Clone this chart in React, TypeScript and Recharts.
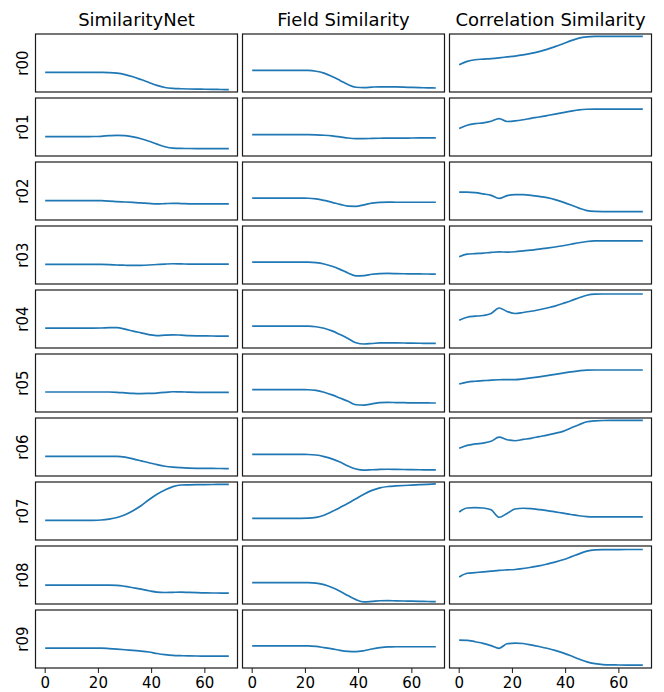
import React from 'react';
import { LineChart, Line, XAxis, YAxis } from 'recharts';

// Column titles and row labels of the small-multiple grid
const columnTitles = ['SimilarityNet', 'Field Similarity', 'Correlation Similarity'];
const rowLabels = ['r00', 'r01', 'r02', 'r03', 'r04', 'r05', 'r06', 'r07', 'r08', 'r09'];

// Shared sample positions along the x axis
const steps = [0, 3, 6, 9, 12, 15, 18, 21, 24, 27, 30, 33, 36, 39, 42, 45, 48, 51, 54, 57, 60, 63, 66, 69];
const xTicks = [0, 20, 40, 60];

// SimilarityNet, one row per series
const similarityNet = [
  [0.339, 0.339, 0.339, 0.339, 0.339, 0.339, 0.339, 0.338, 0.335, 0.325, 0.300, 0.262, 0.215, 0.165, 0.115, 0.078, 0.062, 0.056, 0.052, 0.049, 0.047, 0.045, 0.043, 0.041],
  [0.335, 0.335, 0.335, 0.335, 0.335, 0.335, 0.336, 0.340, 0.350, 0.357, 0.350, 0.330, 0.298, 0.255, 0.205, 0.160, 0.135, 0.130, 0.129, 0.128, 0.128, 0.127, 0.127, 0.127],
  [0.335, 0.335, 0.335, 0.335, 0.335, 0.335, 0.335, 0.333, 0.327, 0.318, 0.310, 0.303, 0.296, 0.285, 0.277, 0.282, 0.288, 0.284, 0.279, 0.277, 0.277, 0.277, 0.277, 0.277],
  [0.337, 0.337, 0.337, 0.337, 0.337, 0.337, 0.337, 0.337, 0.334, 0.328, 0.323, 0.320, 0.322, 0.328, 0.336, 0.344, 0.349, 0.346, 0.343, 0.342, 0.342, 0.343, 0.343, 0.343],
  [0.343, 0.343, 0.343, 0.343, 0.343, 0.343, 0.343, 0.345, 0.350, 0.352, 0.325, 0.292, 0.262, 0.232, 0.212, 0.222, 0.228, 0.222, 0.214, 0.210, 0.208, 0.207, 0.206, 0.206],
  [0.345, 0.345, 0.345, 0.345, 0.345, 0.345, 0.345, 0.345, 0.345, 0.340, 0.330, 0.320, 0.317, 0.321, 0.327, 0.337, 0.349, 0.348, 0.341, 0.339, 0.339, 0.339, 0.339, 0.339],
  [0.337, 0.337, 0.337, 0.337, 0.337, 0.337, 0.337, 0.337, 0.337, 0.337, 0.325, 0.295, 0.262, 0.228, 0.195, 0.168, 0.152, 0.143, 0.137, 0.133, 0.131, 0.130, 0.129, 0.128],
  [0.339, 0.339, 0.339, 0.339, 0.339, 0.339, 0.340, 0.345, 0.360, 0.387, 0.435, 0.505, 0.590, 0.695, 0.790, 0.862, 0.920, 0.948, 0.952, 0.954, 0.955, 0.957, 0.958, 0.960],
  [0.324, 0.324, 0.324, 0.324, 0.324, 0.324, 0.324, 0.324, 0.324, 0.321, 0.305, 0.280, 0.255, 0.228, 0.205, 0.198, 0.202, 0.205, 0.200, 0.195, 0.192, 0.190, 0.189, 0.188],
  [0.343, 0.343, 0.343, 0.343, 0.343, 0.343, 0.343, 0.342, 0.335, 0.326, 0.315, 0.303, 0.292, 0.276, 0.250, 0.230, 0.217, 0.212, 0.209, 0.207, 0.206, 0.206, 0.206, 0.206],
];

// Field Similarity, one row per series
const fieldSimilarity = [
  [0.374, 0.374, 0.374, 0.374, 0.374, 0.374, 0.374, 0.372, 0.358, 0.325, 0.268, 0.200, 0.128, 0.082, 0.075, 0.084, 0.090, 0.090, 0.087, 0.083, 0.079, 0.075, 0.072, 0.069],
  [0.370, 0.370, 0.370, 0.370, 0.370, 0.370, 0.370, 0.369, 0.365, 0.358, 0.347, 0.330, 0.310, 0.300, 0.300, 0.303, 0.306, 0.307, 0.308, 0.309, 0.310, 0.311, 0.312, 0.312],
  [0.376, 0.376, 0.376, 0.376, 0.376, 0.376, 0.376, 0.375, 0.364, 0.338, 0.305, 0.270, 0.238, 0.236, 0.262, 0.290, 0.305, 0.307, 0.306, 0.306, 0.306, 0.306, 0.306, 0.306],
  [0.377, 0.377, 0.377, 0.377, 0.377, 0.377, 0.377, 0.376, 0.368, 0.345, 0.305, 0.252, 0.190, 0.140, 0.145, 0.168, 0.180, 0.182, 0.180, 0.177, 0.175, 0.173, 0.172, 0.171],
  [0.377, 0.377, 0.377, 0.377, 0.377, 0.377, 0.377, 0.376, 0.366, 0.340, 0.295, 0.232, 0.165, 0.090, 0.069, 0.078, 0.088, 0.090, 0.088, 0.086, 0.084, 0.082, 0.081, 0.080],
  [0.385, 0.385, 0.385, 0.385, 0.385, 0.385, 0.385, 0.384, 0.372, 0.340, 0.295, 0.240, 0.185, 0.125, 0.118, 0.140, 0.162, 0.166, 0.163, 0.160, 0.158, 0.157, 0.156, 0.155],
  [0.372, 0.372, 0.372, 0.372, 0.372, 0.372, 0.372, 0.371, 0.362, 0.335, 0.295, 0.240, 0.172, 0.120, 0.100, 0.108, 0.114, 0.116, 0.114, 0.112, 0.110, 0.108, 0.106, 0.105],
  [0.374, 0.374, 0.374, 0.374, 0.374, 0.374, 0.374, 0.376, 0.390, 0.428, 0.490, 0.560, 0.632, 0.712, 0.790, 0.855, 0.898, 0.922, 0.932, 0.940, 0.947, 0.954, 0.960, 0.966],
  [0.370, 0.370, 0.370, 0.370, 0.370, 0.370, 0.370, 0.369, 0.360, 0.335, 0.285, 0.220, 0.145, 0.075, 0.037, 0.045, 0.056, 0.058, 0.055, 0.052, 0.049, 0.046, 0.043, 0.041],
  [0.383, 0.383, 0.383, 0.383, 0.383, 0.383, 0.383, 0.382, 0.372, 0.352, 0.331, 0.305, 0.287, 0.281, 0.298, 0.328, 0.352, 0.365, 0.366, 0.366, 0.366, 0.366, 0.366, 0.366],
];

// Correlation Similarity, one row per series
const correlationSimilarity = [
  [0.471, 0.528, 0.556, 0.567, 0.577, 0.590, 0.605, 0.620, 0.640, 0.665, 0.697, 0.735, 0.782, 0.832, 0.885, 0.928, 0.950, 0.958, 0.960, 0.960, 0.960, 0.960, 0.960, 0.960],
  [0.474, 0.530, 0.558, 0.572, 0.600, 0.645, 0.595, 0.605, 0.625, 0.650, 0.672, 0.697, 0.722, 0.748, 0.773, 0.795, 0.806, 0.809, 0.809, 0.809, 0.809, 0.809, 0.809, 0.809],
  [0.480, 0.482, 0.472, 0.450, 0.425, 0.372, 0.420, 0.436, 0.437, 0.425, 0.407, 0.385, 0.352, 0.308, 0.258, 0.205, 0.162, 0.147, 0.145, 0.145, 0.145, 0.145, 0.145, 0.145],
  [0.469, 0.514, 0.524, 0.532, 0.545, 0.554, 0.550, 0.556, 0.570, 0.585, 0.600, 0.618, 0.638, 0.660, 0.685, 0.711, 0.733, 0.743, 0.744, 0.744, 0.744, 0.744, 0.744, 0.744],
  [0.480, 0.531, 0.548, 0.560, 0.594, 0.690, 0.630, 0.595, 0.612, 0.633, 0.660, 0.690, 0.722, 0.768, 0.815, 0.866, 0.910, 0.928, 0.931, 0.931, 0.931, 0.931, 0.931, 0.931],
  [0.483, 0.515, 0.530, 0.540, 0.550, 0.556, 0.557, 0.558, 0.570, 0.588, 0.607, 0.627, 0.648, 0.670, 0.692, 0.710, 0.722, 0.724, 0.724, 0.724, 0.724, 0.724, 0.724, 0.724],
  [0.477, 0.528, 0.553, 0.568, 0.598, 0.670, 0.625, 0.608, 0.630, 0.650, 0.678, 0.705, 0.735, 0.770, 0.828, 0.885, 0.935, 0.952, 0.957, 0.958, 0.959, 0.959, 0.960, 0.960],
  [0.483, 0.552, 0.558, 0.552, 0.520, 0.392, 0.458, 0.535, 0.547, 0.540, 0.525, 0.508, 0.486, 0.462, 0.440, 0.418, 0.403, 0.398, 0.397, 0.397, 0.397, 0.397, 0.397, 0.397],
  [0.465, 0.530, 0.541, 0.553, 0.566, 0.580, 0.588, 0.595, 0.612, 0.633, 0.657, 0.688, 0.722, 0.762, 0.812, 0.865, 0.912, 0.932, 0.937, 0.938, 0.939, 0.940, 0.940, 0.940],
  [0.480, 0.478, 0.452, 0.425, 0.385, 0.340, 0.418, 0.430, 0.422, 0.398, 0.370, 0.340, 0.305, 0.260, 0.210, 0.155, 0.105, 0.075, 0.058, 0.053, 0.052, 0.051, 0.051, 0.051],
];

const columns = [similarityNet, fieldSimilarity, correlationSimilarity];

// Layout
const FONT = "'DejaVu Sans', sans-serif";
const LINE_COLOR = '#1f77b4';
const SPINE_COLOR = '#1a1a1a';
const PANEL_W = 202;
const PANEL_H = 58;
const COL_LEFT = [35.5, 242.5, 449.5];
const ROW_TOP0 = 34;
const ROW_STEP = 64;
const X_DOMAIN: [number, number] = [-3.45, 72.45];
const Y_DOMAIN: [number, number] = [0, 1];

function Panel({ values, showLabels }: { values: number[]; showLabels: boolean }) {
  const data = steps.map((x, i) => ({ x, y: values[i] }));
  const axisH = showLabels ? 30 : 6;
  return (
    <LineChart
      width={PANEL_W}
      height={PANEL_H + axisH}
      data={data}
      margin={{ top: 0, right: 0, bottom: 0, left: 0 }}
    >
      <XAxis
        dataKey="x"
        type="number"
        domain={X_DOMAIN}
        ticks={xTicks}
        interval={0}
        allowDataOverflow
        axisLine={false}
        stroke={SPINE_COLOR}
        tickSize={5}
        tickMargin={4}
        height={axisH}
        tick={showLabels ? { fill: '#000', fontSize: 15, fontFamily: FONT } : false}
      />
      <YAxis type="number" domain={Y_DOMAIN} hide allowDataOverflow />
      <Line
        dataKey="y"
        type="monotone"
        stroke={LINE_COLOR}
        strokeWidth={1.7}
        dot={false}
        isAnimationActive={false}
      />
    </LineChart>
  );
}

export default function App() {
  return (
    <div
      style={{
        position: 'absolute',
        left: 0,
        top: 0,
        width: 664,
        height: 692,
        background: '#fff',
        fontFamily: FONT,
      }}
    >
      {columns.map((rows, c) =>
        rows.map((values, r) => (
          <div
            key={`${c}-${r}`}
            style={{ position: 'absolute', left: COL_LEFT[c], top: ROW_TOP0 + r * ROW_STEP }}
          >
            <Panel values={values} showLabels={r === rows.length - 1} />
          </div>
        ))
      )}
      <svg
        width={664}
        height={692}
        style={{ position: 'absolute', left: 0, top: 0, pointerEvents: 'none' }}
      >
        {columns.map((rows, c) =>
          rows.map((_, r) => (
            <rect
              key={`f-${c}-${r}`}
              x={COL_LEFT[c]}
              y={ROW_TOP0 + r * ROW_STEP}
              width={PANEL_W}
              height={PANEL_H}
              fill="none"
              stroke={SPINE_COLOR}
              strokeWidth={1.2}
            />
          ))
        )}
        {columnTitles.map((t, c) => (
          <text
            key={t}
            x={COL_LEFT[c] + PANEL_W / 2}
            y={25.7}
            textAnchor="middle"
            fontSize={18}
            fontFamily={FONT}
            fill="#000"
          >
            {t}
          </text>
        ))}
        {rowLabels.map((label, r) => {
          const cy = ROW_TOP0 + r * ROW_STEP + PANEL_H / 2;
          return (
            <text
              key={label}
              x={27.7}
              y={cy}
              transform={`rotate(-90, 27.7, ${cy})`}
              textAnchor="middle"
              fontSize={15}
              fontFamily={FONT}
              fill="#000"
            >
              {label}
            </text>
          );
        })}
      </svg>
    </div>
  );
}
